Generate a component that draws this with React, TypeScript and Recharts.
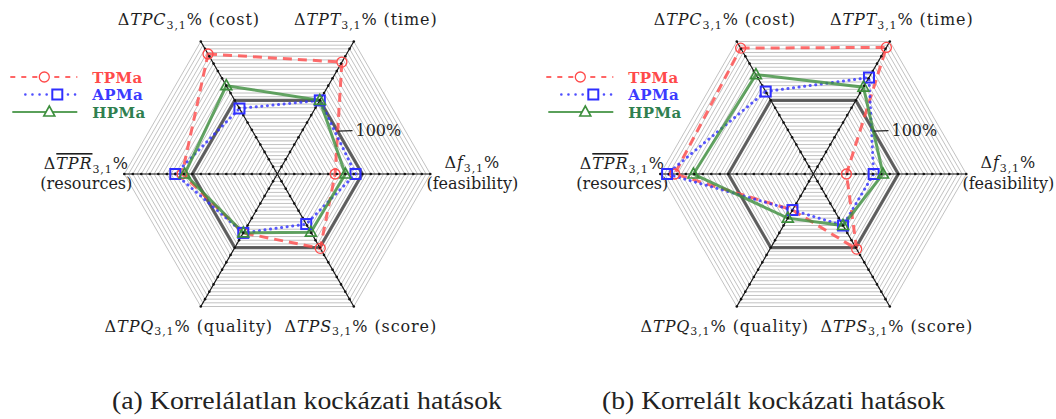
import React from 'react';
import { RadarChart, Radar, PolarGrid, PolarAngleAxis, PolarRadiusAxis } from 'recharts';

// axis order, clockwise from the upper-left spoke
const AXES = ['cost', 'time', 'feasibility', 'score', 'quality', 'resources'];

// (a) uncorrelated risk effects, values in %
const TPMA_A = [163, 152, 68, 101, 80, 112];
const APMA_A = [89, 100, 92, 68, 80, 120];
const HPMA_A = [120, 100, 80, 79, 80, 109];

// (b) correlated risk effects, values in %
const TPMA_B = [171, 172, 39, 102, 49, 163];
const APMA_B = [112, 131, 71, 70, 49, 172];
const HPMA_B = [135, 118, 82, 70, 60, 141];

const REFERENCE = [100, 100, 100, 100, 100, 100];
const AXIS_TICKS = [10, 20, 30, 40, 50, 60, 70, 80, 90, 100, 110, 120, 130, 140, 150, 160, 170, 180];
const GRID_LEVELS = [
  5, 10, 15, 20, 25, 30, 35, 40, 45, 50, 55, 60, 65, 70, 75, 80, 85, 90,
  95, 100, 105, 110, 115, 120, 125, 130, 135, 140, 145, 150, 155, 160, 165, 170, 175, 180,
];
const MAX = 180;
const RING_LABEL = 100;

const CAPTIONS = ['(a) Korrelálatlan kockázati hatások', '(b) Korrelált kockázati hatások'];

const AXIS_LABELS: Record<string, { sym: string; name: string; bar?: boolean; twoLine?: boolean }> = {
  cost: { sym: 'TPC', name: '(cost)' },
  time: { sym: 'TPT', name: '(time)' },
  feasibility: { sym: 'f', name: '(feasibility)', twoLine: true },
  score: { sym: 'TPS', name: '(score)' },
  quality: { sym: 'TPQ', name: '(quality)' },
  resources: { sym: 'TPR', name: '(resources)', bar: true, twoLine: true },
};

// label offsets from the spoke end: dx, baseline dy, second line dy
const LABEL_POS: Record<string, [number, number, number?]> = {
  cost: [-12, -16],
  time: [12, -16],
  feasibility: [42, -6, 15],
  score: [7, 25],
  quality: [-12, 25],
  resources: [-38, -5, 15],
};

const SERIES = [
  { key: 'tpma', name: 'TPMa', color: '#ff4a4a', text: '#ff4a4a', dash: '9 6', marker: 'circle' },
  { key: 'apma', name: 'APMa', color: '#2f2fff', text: '#3b3bff', dash: '0.1 5.5', marker: 'square' },
  { key: 'hpma', name: 'HPMa', color: '#3d8f3d', text: '#2f7f4f', dash: undefined, marker: 'triangle' },
];

const LEGEND_LAYOUT = [
  { x1: -267, x2: -200, mx: -233, dash: '5 6' },
  { x1: -252, x2: -199, mx: -220, dash: '0.1 7' },
  { x1: -265, x2: -200, mx: -228, dash: undefined },
];

const W = 1056;
const H = 419;
const R = 153;
const CY = 174;
const PANEL_W = 528;
const CENTERS = [277.3, 813.3];
const FONT = '"DejaVu Serif", serif';
const LABEL_SIZE = 16;

const Marker = ({ type, x, y, color, fill = 'none' }: any) => {
  if (type === 'circle') {
    return <circle cx={x} cy={y} r={5} fill={fill} stroke={color} strokeWidth={1.3} />;
  }
  if (type === 'square') {
    return <rect x={x - 5} y={y - 5} width={10} height={10} fill={fill} stroke={color} strokeWidth={2} />;
  }
  return (
    <polygon
      points={`${x - 5.5},${y + 4} ${x + 5.5},${y + 4} ${x},${y - 6}`}
      fill={fill}
      stroke={color}
      strokeWidth={1.6}
    />
  );
};

const MathLabel = ({ x, y, spec, withName }: any) => (
  <text
    x={x}
    y={y}
    textAnchor="middle"
    fontFamily={FONT}
    fontSize={LABEL_SIZE}
    letterSpacing={0.9}
    fill="#1e1e1e"
  >
    <tspan>Δ</tspan>
    <tspan fontStyle="italic" style={spec.bar ? { textDecoration: 'overline' } : undefined}>
      {spec.sym}
    </tspan>
    <tspan fontSize={11} dy={3.5}>3,1</tspan>
    <tspan dy={-3.5}>%{withName ? ` ${spec.name}` : ''}</tspan>
  </text>
);

const makeAngleTick = (cx: number) => (props: any) => {
  const key = props.payload.value;
  const spec = AXIS_LABELS[key];
  const rad = (props.payload.coordinate * Math.PI) / 180;
  const vx = cx + R * Math.cos(rad);
  const vy = CY - R * Math.sin(rad);
  const [dx, dy, dy2] = LABEL_POS[key];
  if (spec.twoLine) {
    return (
      <g>
        <MathLabel x={vx + dx} y={vy + dy} spec={spec} withName={false} />
        <text
          x={vx + dx}
          y={vy + (dy2 as number)}
          textAnchor="middle"
          fontFamily={FONT}
          fontSize={LABEL_SIZE}
          fill="#1e1e1e"
        >
          {spec.name}
        </text>
      </g>
    );
  }
  return <MathLabel x={vx + dx} y={vy + dy} spec={spec} withName />;
};

// "100%" marker sitting on the hexagonal reference ring
const RING_ANGLE = 35.5;
const makeRadiusTick = (cx: number) => (props: any) => {
  if (props.payload.value !== RING_LABEL) return <g />;
  const rad = (RING_ANGLE * Math.PI) / 180;
  const r = ((R * RING_LABEL) / MAX) * (Math.cos(Math.PI / 6) / Math.cos(rad - Math.PI / 6));
  const px = cx + r * Math.cos(rad);
  const py = CY - r * Math.sin(rad);
  return (
    <g>
      <line x1={px} y1={py} x2={px + 15} y2={py - 0.5} stroke="#222" strokeWidth={1.3} />
      <text x={px + 18} y={py + 5} fontFamily={FONT} fontSize={LABEL_SIZE} fill="#1e1e1e">
        {RING_LABEL}%
      </text>
    </g>
  );
};

const Panel = ({ tpma, apma, hpma, cx }: any) => {
  const data = AXES.map((axis, i) => {
    const row: any = { axis, tpma: tpma[i], apma: apma[i], hpma: hpma[i], ref: REFERENCE[i] };
    AXIS_TICKS.forEach((t) => {
      row[`t${t}`] = t;
    });
    return row;
  });

  return (
    <RadarChart
      width={PANEL_W}
      height={360}
      data={data}
      cx={cx}
      cy={CY}
      outerRadius={R}
      startAngle={120}
      endAngle={-240}
      margin={{ top: 0, right: 0, bottom: 0, left: 0 }}
    >
      <PolarGrid
        gridType="polygon"
        polarRadius={GRID_LEVELS.map((v) => (R * v) / MAX)}
        radialLines={false}
        stroke="#c2c2c2"
        strokeWidth={1}
      />
      <PolarGrid gridType="polygon" polarRadius={[]} radialLines stroke="#111" strokeWidth={1.2} />
      <PolarAngleAxis dataKey="axis" tick={makeAngleTick(cx)} tickLine={false} axisLine={false} />
      <PolarRadiusAxis
        angle={RING_ANGLE}
        domain={[0, MAX]}
        tickCount={10}
        axisLine={false}
        tick={makeRadiusTick(cx)}
      />
      {AXIS_TICKS.map((t) => (
        <Radar
          key={t}
          dataKey={`t${t}`}
          stroke="none"
          fill="none"
          dot={{ r: 1.3, fill: '#111', stroke: 'none' }}
          legendType="none"
          isAnimationActive={false}
        />
      ))}
      <Radar
        dataKey="ref"
        stroke="#3c3c3c"
        strokeOpacity={0.8}
        strokeWidth={3.2}
        fill="none"
        dot={false}
        isAnimationActive={false}
      />
      {SERIES.map((s) => (
        <Radar
          key={s.key}
          name={s.name}
          dataKey={s.key}
          stroke={s.color}
          strokeOpacity={0.8}
          strokeWidth={3}
          strokeDasharray={s.dash}
          strokeLinecap={s.marker === 'square' ? 'round' : 'butt'}
          fill="none"
          dot={(p: any) => <Marker key={`${s.key}-${p.index}`} type={s.marker} x={p.cx} y={p.cy} color={s.color} />}
          isAnimationActive={false}
        />
      ))}
    </RadarChart>
  );
};

const Legend = ({ cx }: { cx: number }) => (
  <g>
    {SERIES.map((s, i) => {
      const l = LEGEND_LAYOUT[i];
      const y = 77 + i * 17.5;
      return (
        <g key={s.key}>
          <line
            x1={cx + l.x1}
            x2={cx + l.x2}
            y1={y}
            y2={y}
            stroke={s.color}
            strokeOpacity={0.85}
            strokeWidth={s.marker === 'square' ? 2.5 : 1.8}
            strokeDasharray={l.dash}
            strokeLinecap={s.marker === 'square' ? 'round' : 'butt'}
          />
          <Marker type={s.marker} x={cx + l.mx} y={y} color={s.color} fill="#fff" />
          <text
            x={cx - 185}
            y={y + 5.5}
            fontFamily={FONT}
            fontWeight="bold"
            fontSize={15}
            letterSpacing={0.4}
            fill={s.text}
          >
            {s.name}
          </text>
        </g>
      );
    })}
  </g>
);

export default function App() {
  return (
    <div style={{ position: 'absolute', left: 0, top: 0, width: W, height: H, background: '#fff' }}>
      <div style={{ position: 'absolute', left: 0, top: 0 }}>
        <Panel tpma={TPMA_A} apma={APMA_A} hpma={HPMA_A} cx={CENTERS[0]} />
      </div>
      <div style={{ position: 'absolute', left: PANEL_W, top: 0 }}>
        <Panel tpma={TPMA_B} apma={APMA_B} hpma={HPMA_B} cx={CENTERS[1] - PANEL_W} />
      </div>
      <svg width={W} height={H} style={{ position: 'absolute', left: 0, top: 0, pointerEvents: 'none' }}>
        <Legend cx={CENTERS[0]} />
        <Legend cx={CENTERS[1]} />
        <text
          x={112}
          y={409}
          textLength={390}
          lengthAdjust="spacingAndGlyphs"
          fontFamily='"Liberation Serif", serif'
          fontSize={25}
          fill="#222"
        >
          {CAPTIONS[0]}
        </text>
        <text
          x={602}
          y={409}
          textLength={343}
          lengthAdjust="spacingAndGlyphs"
          fontFamily='"Liberation Serif", serif'
          fontSize={25}
          fill="#222"
        >
          {CAPTIONS[1]}
        </text>
      </svg>
    </div>
  );
}
